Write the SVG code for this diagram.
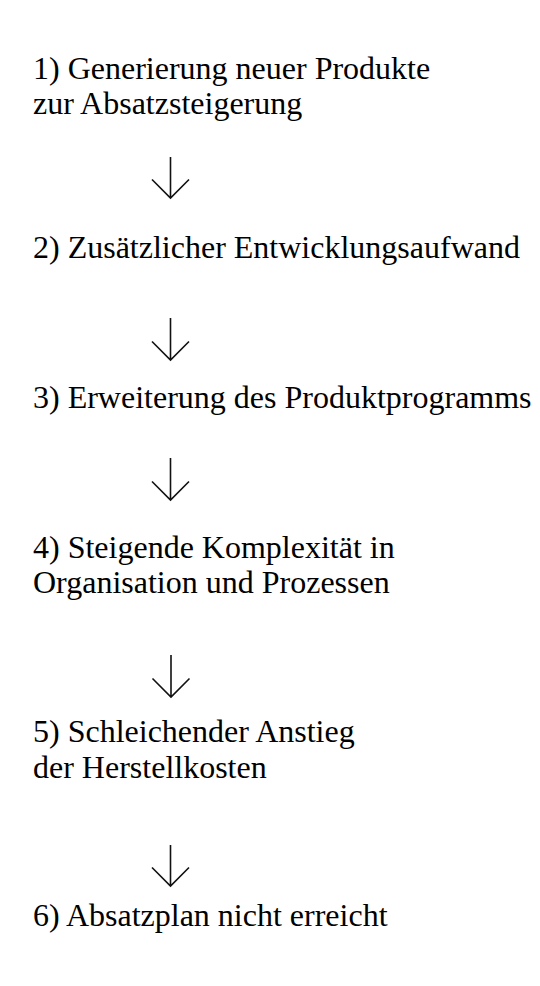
<svg xmlns="http://www.w3.org/2000/svg" width="540" height="986" viewBox="0 0 540 986">
<style>
text{font-family:"Liberation Serif","Times New Roman",serif;font-size:32px;fill:#000}
.arr{fill:none;stroke:#111;stroke-width:1.6}
</style>
<rect width="540" height="986" fill="#fff"/>
<g id="n1"><text x="33" y="79">1) Generierung neuer Produkte</text><text x="33" y="114">zur Absatzsteigerung</text></g>
<g id="n2"><text x="33" y="258">2) Zusätzlicher Entwicklungsaufwand</text></g>
<g id="n3"><text x="33" y="408">3) Erweiterung des Produktprogramms</text></g>
<g id="n4"><text x="33" y="558">4) Steigende Komplexität in</text><text x="33" y="593">Organisation und Prozessen</text></g>
<g id="n5"><text x="33" y="742">5) Schleichender Anstieg</text><text x="33" y="778">der Herstellkosten</text></g>
<g id="n6"><text x="33" y="926">6) Absatzplan nicht erreicht</text></g>
<g id="connectors">
<path class="arr" d="M170.5 157V198M152 179.5L170.5 198L189 179.5"/>
<path class="arr" d="M170.5 318V360M152 341.5L170.5 360L189 341.5"/>
<path class="arr" d="M170.5 458V500M152 481.5L170.5 500L189 481.5"/>
<path class="arr" d="M171 655V697M152.5 678.5L171 697L189.5 678.5"/>
<path class="arr" d="M170.5 845V886M152 867.5L170.5 886L189 867.5"/>
</g>
</svg>
